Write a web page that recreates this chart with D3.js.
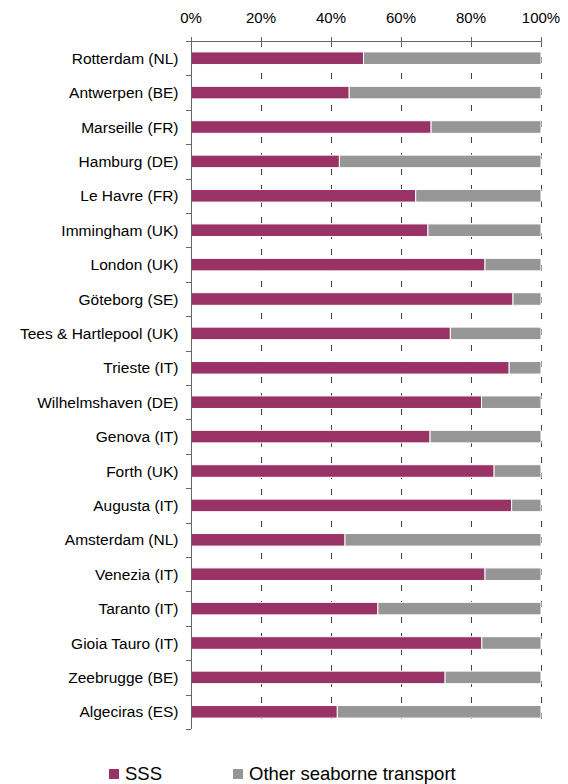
<!DOCTYPE html>
<html lang="en">
<head>
    <meta charset="UTF-8" />
    <title>SSS share by port</title>
    <style>
        body, html {
            margin: 0;
            padding: 0;
            overflow: hidden;
            background: #fff;
            font-family: "Liberation Sans", Arial, sans-serif;
        }
        svg { display: block; }
        .label { font-size: 15.5px; fill: #000; }
        .tick-label { font-size: 15px; fill: #000; }
        .legend text { font-size: 18.5px; fill: #000; }
    </style>
</head>
<body>
<svg width="568" height="784"></svg>

<script src="https://d3js.org/d3.v7.min.js"></script>
<script>
    // ports top to bottom
    const ports = [
        "Rotterdam (NL)", "Antwerpen (BE)", "Marseille (FR)", "Hamburg (DE)",
        "Le Havre (FR)", "Immingham (UK)", "London (UK)", "Göteborg (SE)",
        "Tees & Hartlepool (UK)", "Trieste (IT)", "Wilhelmshaven (DE)", "Genova (IT)",
        "Forth (UK)", "Augusta (IT)", "Amsterdam (NL)", "Venezia (IT)",
        "Taranto (IT)", "Gioia Tauro (IT)", "Zeebrugge (BE)", "Algeciras (ES)"
    ];
    // share of short sea shipping, %
    const sss = [49.3, 45.2, 68.6, 42.4, 64.2, 67.7, 84.0, 92.0, 74.1, 90.9,
                 83.0, 68.3, 86.6, 91.6, 44.0, 84.0, 53.4, 83.1, 72.6, 41.8];
    // remaining share, %
    const other = sss.map(v => 100 - v);
    const ticks = [0, 20, 40, 60, 80, 100];
    const seriesNames = ["SSS", "Other seaborne transport"];
    const colors = ["#993366", "#969696"];

    const svg = d3.select("svg");

    const x = d3.scaleLinear().domain([0, 100]).range([191, 541]);
    const y = d3.scaleBand().domain(ports).range([41, 729])
        .paddingInner(0.635).paddingOuter(0.3175);

    const axisColor = "#666";

    // dashed gridlines
    svg.append("g")
        .selectAll("line")
        .data(ticks.slice(1))
        .join("line")
        .attr("x1", d => x(d) + 0.5)
        .attr("x2", d => x(d) + 0.5)
        .attr("y1", 41)
        .attr("y2", 729)
        .attr("stroke", "#444")
        .attr("stroke-width", 1)
        .attr("stroke-dasharray", "6,10");

    // stacked bars
    const stacked = ports.map((p, i) => ({ port: p, sss: sss[i], other: other[i] }));
    const series = d3.stack().keys(["sss", "other"])(stacked);

    svg.append("g")
        .selectAll("g")
        .data(series)
        .join("g")
        .attr("fill", (d, i) => colors[i])
        .selectAll("rect")
        .data(d => d)
        .join("rect")
        .attr("x", d => x(d[0]))
        .attr("y", d => y(d.data.port))
        .attr("width", d => x(d[1]) - x(d[0]))
        .attr("height", y.bandwidth())
        .attr("stroke", "#fff")
        .attr("stroke-width", 1);

    // top axis
    const xAxisG = svg.append("g");
    xAxisG.append("line")
        .attr("x1", 191).attr("x2", 541)
        .attr("y1", 41.5).attr("y2", 41.5)
        .attr("stroke", axisColor);
    xAxisG.selectAll(".tk")
        .data(ticks)
        .join("line")
        .attr("x1", d => x(d) + 0.5).attr("x2", d => x(d) + 0.5)
        .attr("y1", 37).attr("y2", 46)
        .attr("stroke", axisColor);
    xAxisG.selectAll("text")
        .data(ticks)
        .join("text")
        .attr("class", "tick-label")
        .attr("x", d => x(d))
        .attr("y", 23)
        .attr("text-anchor", "middle")
        .text(d => d + "%");

    // left axis
    const yAxisG = svg.append("g");
    yAxisG.append("line")
        .attr("x1", 191.5).attr("x2", 191.5)
        .attr("y1", 41).attr("y2", 729)
        .attr("stroke", axisColor);
    const bounds = ports.map(p => y(p) - y.step() * y.paddingInner() / 2);
    bounds.push(729);
    yAxisG.selectAll(".lt")
        .data(bounds)
        .join("line")
        .attr("x1", 186).attr("x2", 191)
        .attr("y1", d => Math.round(d) + 0.5).attr("y2", d => Math.round(d) + 0.5)
        .attr("stroke", axisColor);
    yAxisG.selectAll("text")
        .data(ports)
        .join("text")
        .attr("class", "label")
        .attr("x", 178.5)
        .attr("y", d => y(d) + y.bandwidth() / 2)
        .attr("dy", "0.36em")
        .attr("text-anchor", "end")
        .text(d => d);

    // legend
    const legendX = [109, 233];
    const legend = svg.append("g").attr("class", "legend")
        .selectAll("g")
        .data(seriesNames)
        .join("g")
        .attr("transform", (d, i) => `translate(${legendX[i]},769)`);
    legend.append("rect")
        .attr("width", 10).attr("height", 10)
        .attr("fill", (d, i) => colors[i]);
    legend.append("text")
        .attr("x", 16)
        .attr("y", 10.5)
        .text(d => d);
</script>
</body>
</html>
